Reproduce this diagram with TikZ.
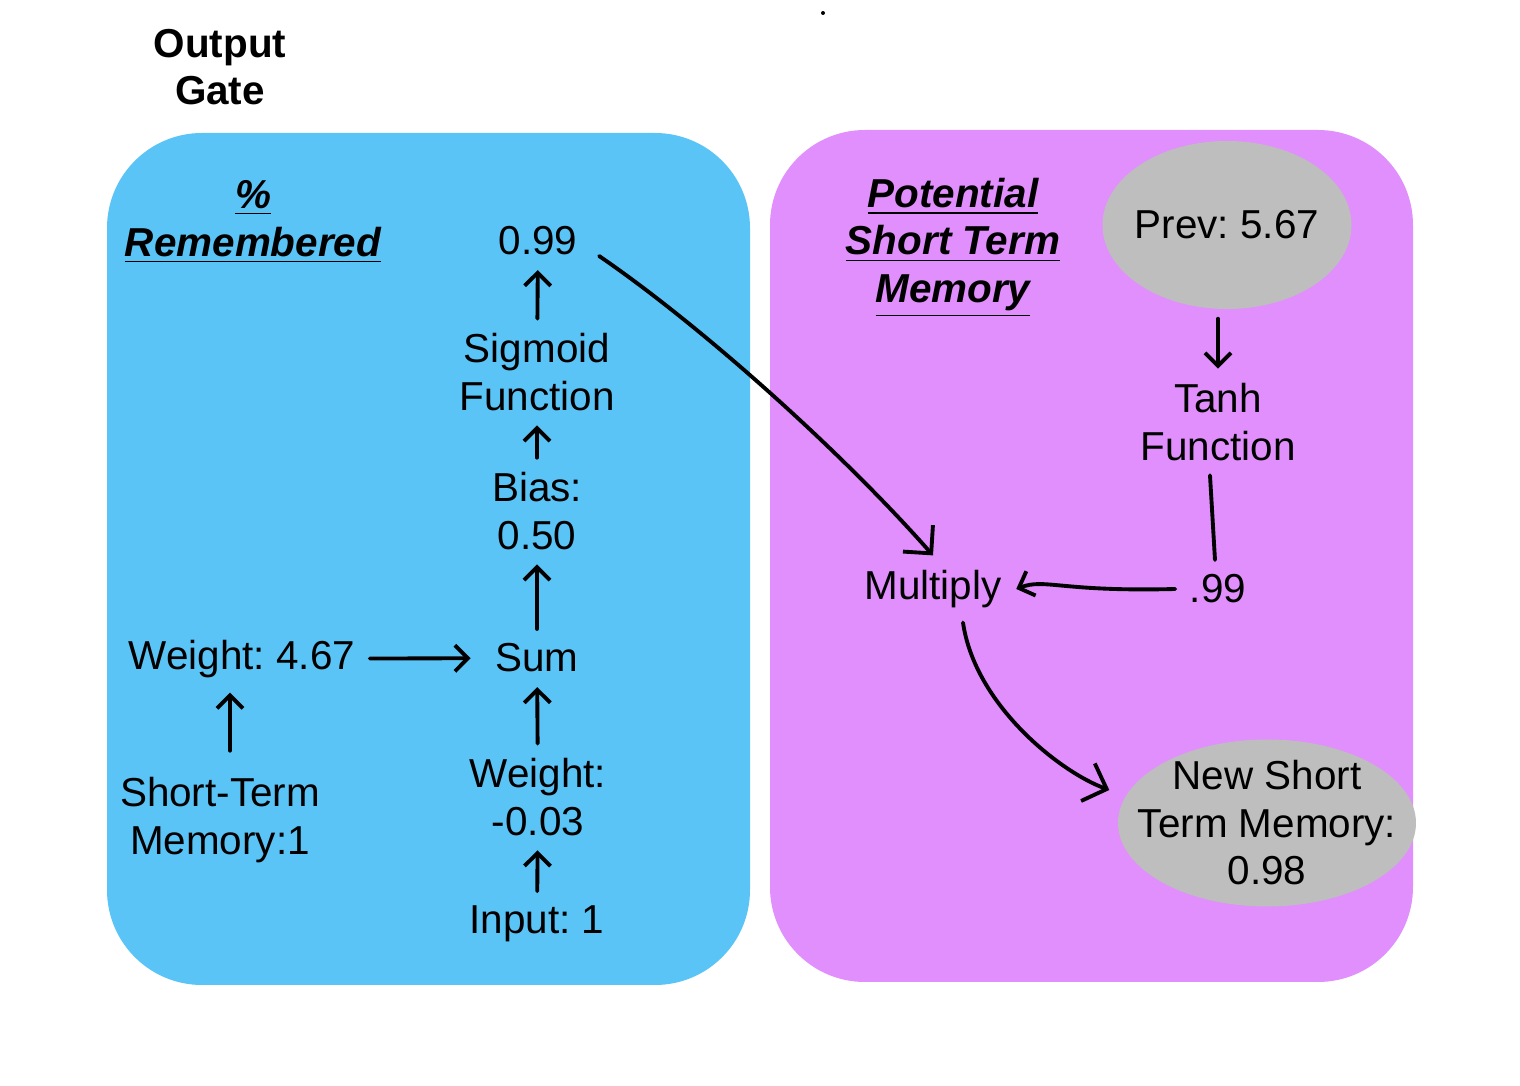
\documentclass[tikz,border=0pt]{standalone}
\usepackage{fontspec}
\setmainfont{Liberation Sans}
\usepackage{xcolor}
\usepackage{tikz}
\usetikzlibrary{shapes,arrows.meta,positioning,calc}

\definecolor{gateblue}{RGB}{91,196,246}
\definecolor{memorypink}{RGB}{225,143,252}
\definecolor{blobgray}{RGB}{190,190,190}

\tikzset{
    txt/.style={font=\fontsize{11.5}{13.5}\selectfont\frenchspacing, align=center, inner sep=4pt},
    ttl/.style={txt, font=\fontsize{11.5}{13.5}\selectfont\frenchspacing\bfseries\itshape},
    blob/.style={ellipse, fill=blobgray, inner sep=0pt},
    flow/.style={-{Straight Barb[length=1.3mm,width=2.6mm]}, line width=1.1pt, line cap=round},
    bigflow/.style={-{Straight Barb[length=2mm,width=4mm]}, line width=1.1pt, line cap=round},
}

\begin{document}
\begin{tikzpicture}
    \useasboundingbox (0,0) rectangle (15.2,-10.86);

    % Panels
    \fill[gateblue, rounded corners=0.95cm] (1.07,-1.33) rectangle (7.50,-9.85);
    \fill[memorypink, rounded corners=0.95cm] (7.70,-1.30) rectangle (14.13,-9.82);
    \fill (8.23,-0.13) circle (0.02);

    % Titles
    \node[txt, font=\fontsize{11.5}{13.5}\selectfont\bfseries] (gate) at (2.20,-0.67) {Output\\Gate};
    \node[ttl] (rem) at (2.53,-2.22) {\underline{\%}\\\underline{Remembered}};
    \node[ttl] (pstm) at (9.53,-2.48) {\underline{Potential}\\\underline{Short Term}\\\underline{Memory}};

    % Output gate
    \node[txt] (p99) at (5.38,-2.41) {0.99};
    \node[txt] (sig) at (5.37,-3.72) {Sigmoid\\Function};
    \node[txt] (bias) at (5.37,-5.11) {Bias:\\0.50};
    \node[txt] (sum) at (5.37,-6.58) {Sum};
    \node[txt] (w2) at (5.38,-7.97) {Weight:\\-0.03};
    \node[txt] (inp) at (5.37,-9.24) {Input: 1};
    \node[txt] (w1) at (2.42,-6.59) {Weight: 4.67};
    \node[txt] (sterm) at (2.20,-8.20) {Short-Term\\Memory:1};

    \foreach \a/\b in {inp/w2, w2/sum, sum/bias, bias/sig, sig/p99}
        \draw[flow] (\a) -- (\b);
    \draw[flow, shorten >=0.1cm] (w1) -- (sum);
    \draw[flow, shorten <=0.12cm] ([xshift=0.1cm]sterm.north) -- ([xshift=-0.12cm]w1.south);

    % Potential short term memory
    \node[blob, minimum width=2.49cm, minimum height=1.68cm] (prev) at (12.27,-2.25) {};
    \node[txt] (prevtext) at (prev) {Prev: 5.67};
    \node[txt] (tanh) at (12.18,-4.22) {Tanh\\Function};
    \node[txt] (t99) at (12.18,-5.89) {.99};
    \node[txt] (mult) at (9.33,-5.89) {Multiply};
    \node[blob, minimum width=2.98cm, minimum height=1.67cm] (newstm) at (12.67,-8.23) {};
    \node[txt] (newtext) at (newstm) {New Short\\Term Memory:\\0.98};

    \draw[flow, shorten <=0.09cm] (prev.south -| tanh) -- (tanh);
    \draw[line width=1.1pt, line cap=round] ([xshift=-0.08cm]tanh.south) -- ([xshift=-0.03cm]t99.north);
    \draw[flow] (t99.west) .. controls (10.6,-5.92) and (10.45,-5.78) .. (mult.east);

    % Crossing arrows
    \draw[bigflow] ([shift={(0.07,-0.15)}]p99.east) .. controls (7.0,-3.25) and (8.4,-4.5) .. (mult.north);
    \draw[bigflow] ([xshift=0.3cm]mult.south) .. controls (9.75,-7.05) and (10.6,-7.72) .. ([shift={(-0.08,0.33)}]newstm.west);
\end{tikzpicture}
\end{document}
